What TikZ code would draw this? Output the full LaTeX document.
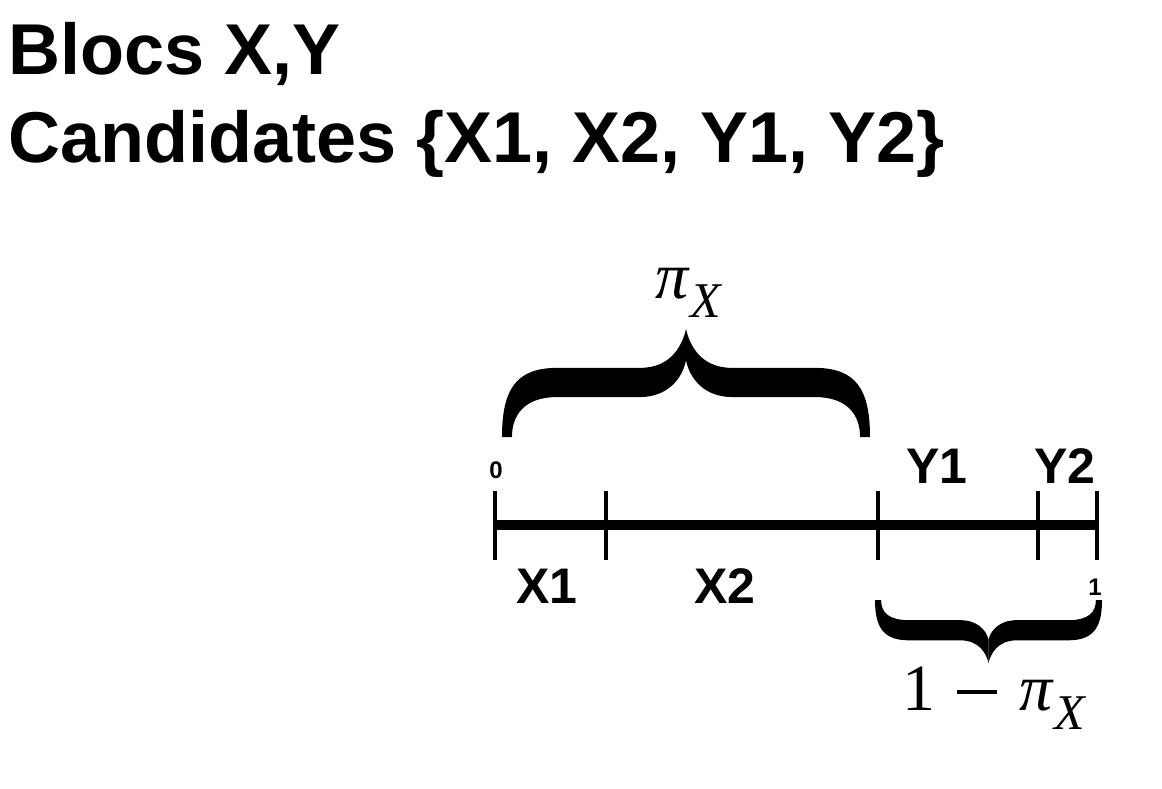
\documentclass[tikz,border=0pt]{standalone}
\usepackage{amsmath,amssymb}
\usepackage{fontspec}
\setmainfont{Liberation Sans}
\newfontfamily\timesfont{Liberation Serif}
\newcommand{\subX}{\raisebox{-19pt}{\fontsize{50}{55}\selectfont\itshape X}}
\newcommand{\longminus}{\hspace{21pt}\rule[16.5pt]{40pt}{3.5pt}\hspace{23pt}}
\usetikzlibrary{positioning}

\begin{document}
\begin{tikzpicture}[x=1pt, y=-1pt,
  title/.style = {font=\fontsize{72}{86}\selectfont\bfseries, anchor=base west, inner sep=0},
  lab/.style = {font=\fontsize{50}{60}\selectfont\bfseries, anchor=base, inner sep=0},
  small/.style = {font=\fontsize{24}{30}\selectfont\bfseries, anchor=base, inner sep=0},
  greek/.style = {font=\timesfont\fontsize{66}{70}\selectfont, anchor=base, inner sep=0},
  tick/.style = {line width=4pt},
  axis/.style = {line width=10pt},
  pics/curly/.style 2 args = {code = {
    \foreach \s in {-1,1}
      \fill (\s*1,0) .. controls (\s*1,0.45) and (\s*0.92,0.64) .. (\s*0.70,0.64)
        -- (\s*0.25,0.64) .. controls (\s*0.08,0.64) and (\s*0.02,0.85) .. (0,1)
        -- (0,#2) .. controls (\s*0.02,{(#1+#2)/2}) and (\s*0.1,#1) .. (\s*0.25,#1)
        -- (\s*0.70,#1) .. controls (\s*0.88,#1) and (\s*0.946,0.2) .. (\s*0.946,0) -- cycle;
  }}]
\useasboundingbox (0,0) rectangle (1162,789);

% title
\node[title] (blocs) at (8,75) {Blocs X,Y};
\node[title] (cand) at (8,163) {Candidates \{X1, X2, Y1, Y2\}};

% the segment [0,1]
\coordinate (p0) at (495,525);
\coordinate (p1) at (606,525);
\coordinate (p2) at (878,525);
\coordinate (p3) at (1038,525);
\coordinate (p4) at (1097,525);
\draw[axis] (p0) -- (p4);
\foreach \p in {p0,p1,p2,p3,p4}
  \draw[tick] ([yshift=34pt]\p) -- ([yshift=-35pt]\p);

\node[small] (zero) at (496,478) {0};
\node[small] (one) at (1095,595) {1};
\node[lab] (x1) at (547,603) {X1};
\node[lab] (x2) at (725,603) {X2};
\node[lab] (y1) at (937,483) {Y1};
\node[lab] (y2) at (1065,483) {Y2};

% braces
\pic[xscale=184, yscale=-108] (bx) at (686,437) {curly={0.37}{0.71}};
\pic[xscale=113.5, yscale=63] (by) at (988.5,600) {curly={0.32}{0.63}};
\node[greek] (pix) at (688,298) {\textit{π}\subX};
\node[greek] (piy) at (994,710) {1\longminus\textit{π}\subX};
\end{tikzpicture}
\end{document}
